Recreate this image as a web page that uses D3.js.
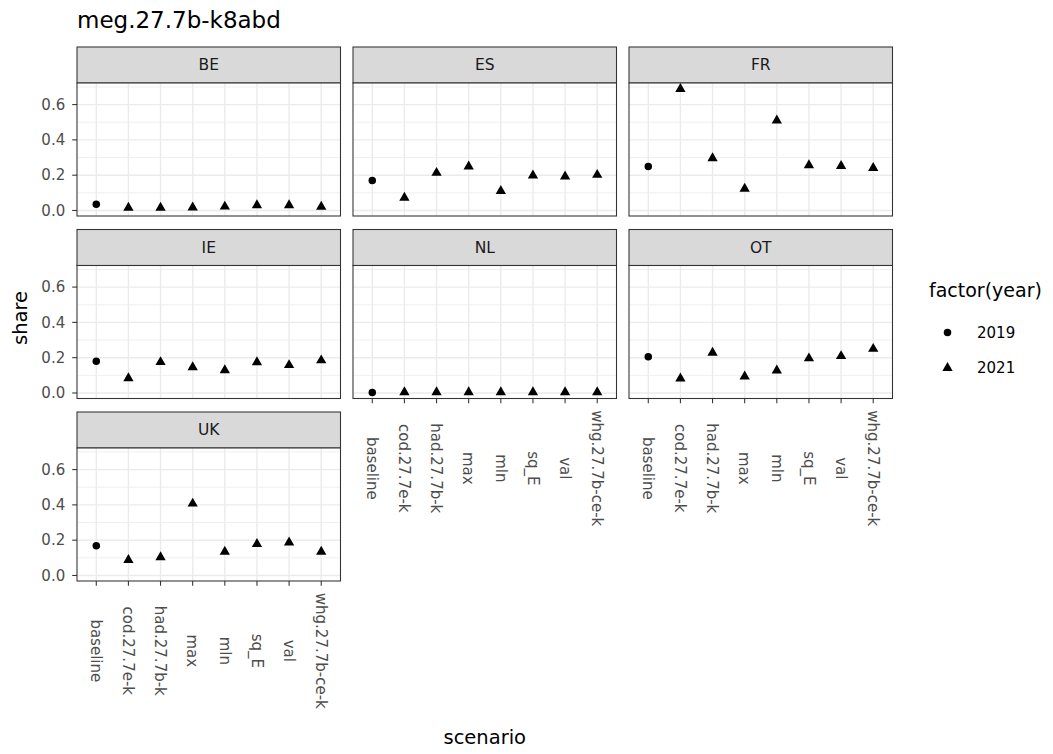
<!DOCTYPE html>
<html lang="en">

<head>
    <meta charset="utf-8" />
    <title>meg.27.7b-k8abd</title>
    <script src="https://d3js.org/d3.v7.min.js"></script>
    <style>
        body {
            margin: 0;
            background: #fff;
        }

        svg text {
            font-family: "DejaVu Sans", Verdana, sans-serif;
        }

        .tick-label {
            font-size: 15px;
            fill: #4d4d4d;
        }

        .strip-label {
            font-size: 15.5px;
            fill: #1a1a1a;
        }
    </style>
</head>

<body>
    <div id="chart"></div>
    <script>
        // scenarios on the x axis, one facet per country
        var scenarios = ['baseline', 'cod.27.7e-k', 'had.27.7b-k', 'max', 'mln', 'sq_E', 'val', 'whg.27.7b-ce-k'];
        var years = [2019, 2021, 2021, 2021, 2021, 2021, 2021, 2021];
        var countries = ['BE', 'ES', 'FR', 'IE', 'NL', 'OT', 'UK'];
        var yTicks = [0, 0.2, 0.4, 0.6];
        var yMinor = [0.1, 0.3, 0.5, 0.7];

        var shareBE = [0.035, 0.016, 0.016, 0.017, 0.022, 0.030, 0.030, 0.021];
        var shareES = [0.170, 0.072, 0.213, 0.249, 0.110, 0.198, 0.193, 0.202];
        var shareFR = [0.249, 0.688, 0.296, 0.123, 0.510, 0.256, 0.252, 0.241];
        var shareIE = [0.180, 0.084, 0.175, 0.146, 0.129, 0.174, 0.158, 0.185];
        var shareNL = [0.003, 0.004, 0.004, 0.004, 0.004, 0.004, 0.004, 0.004];
        var shareOT = [0.205, 0.082, 0.228, 0.093, 0.127, 0.196, 0.209, 0.250];
        var shareUK = [0.169, 0.088, 0.103, 0.407, 0.135, 0.178, 0.187, 0.135];

        var shares = [shareBE, shareES, shareFR, shareIE, shareNL, shareOT, shareUK];

        var width = 1053;
        var height = 754;
        var ncol = 3;
        var panelLeft = 77;
        var panelTop = 47;
        var panelW = 263.5;
        var colStep = 276;
        var stripH = 36;
        var plotH = 133;
        var rowStep = 182.5;
        var tickLen = 4.8;

        var svg = d3.select('#chart')
            .append('svg')
            .attr('width', width)
            .attr('height', height);

        var allValues = d3.merge(shares);
        var ext = d3.extent(allValues);
        var pad = (ext[1] - ext[0]) * 0.05;

        var y = d3.scaleLinear()
            .domain([ext[0] - pad, ext[1] + pad])
            .range([plotH, 0]);

        var x = d3.scalePoint()
            .domain(scenarios)
            .range([0, panelW])
            .padding(0.6);

        var shape = d3.scaleOrdinal()
            .domain([2019, 2021])
            .range([d3.symbolCircle, d3.symbolTriangle]);

        var symbolSize = {
            2019: 44,
            2021: 46
        };

        var nrow = Math.ceil(countries.length / ncol);

        countries.forEach(function(country, i) {
            var col = i % ncol;
            var row = Math.floor(i / ncol);
            var px = panelLeft + col * colStep;
            var py = panelTop + row * rowStep;
            var showX = (i + ncol) >= countries.length;
            var showY = col === 0;

            var g = svg.append('g')
                .attr('transform', 'translate(' + px + ',' + py + ')');

            // strip
            g.append('rect')
                .attr('x', 0)
                .attr('y', 0)
                .attr('width', panelW)
                .attr('height', stripH)
                .attr('fill', '#d9d9d9')
                .attr('stroke', '#333333')
                .attr('stroke-width', 1.07);

            g.append('text')
                .attr('class', 'strip-label')
                .attr('x', panelW / 2)
                .attr('y', stripH / 2)
                .attr('dy', '0.35em')
                .attr('text-anchor', 'middle')
                .text(country);

            var plot = g.append('g')
                .attr('transform', 'translate(0,' + stripH + ')');

            plot.append('rect')
                .attr('width', panelW)
                .attr('height', plotH)
                .attr('fill', '#fff');

            // grid
            plot.selectAll('.minor')
                .data(yMinor)
                .enter()
                .append('line')
                .attr('x1', 0)
                .attr('x2', panelW)
                .attr('y1', function(d) { return y(d); })
                .attr('y2', function(d) { return y(d); })
                .attr('stroke', '#ebebeb')
                .attr('stroke-width', 0.8);

            plot.selectAll('.hmajor')
                .data(yTicks)
                .enter()
                .append('line')
                .attr('x1', 0)
                .attr('x2', panelW)
                .attr('y1', function(d) { return y(d); })
                .attr('y2', function(d) { return y(d); })
                .attr('stroke', '#ebebeb')
                .attr('stroke-width', 1.4);

            plot.selectAll('.vmajor')
                .data(scenarios)
                .enter()
                .append('line')
                .attr('x1', function(d) { return x(d); })
                .attr('x2', function(d) { return x(d); })
                .attr('y1', 0)
                .attr('y2', plotH)
                .attr('stroke', '#ebebeb')
                .attr('stroke-width', 1.4);

            // points
            var values = shares[i];
            plot.selectAll('path.pt')
                .data(scenarios)
                .enter()
                .append('path')
                .attr('class', 'pt')
                .attr('transform', function(d, j) {
                    return 'translate(' + x(d) + ',' + y(values[j]) + ')';
                })
                .attr('d', function(d, j) {
                    return d3.symbol().type(shape(years[j])).size(symbolSize[years[j]])();
                })
                .attr('fill', '#000');

            plot.append('rect')
                .attr('width', panelW)
                .attr('height', plotH)
                .attr('fill', 'none')
                .attr('stroke', '#333333')
                .attr('stroke-width', 1.07);

            if (showY) {
                var yAxis = plot.append('g');
                yAxis.selectAll('line')
                    .data(yTicks)
                    .enter()
                    .append('line')
                    .attr('x1', -tickLen)
                    .attr('x2', 0)
                    .attr('y1', function(d) { return y(d); })
                    .attr('y2', function(d) { return y(d); })
                    .attr('stroke', '#333333')
                    .attr('stroke-width', 1.07);
                yAxis.selectAll('text')
                    .data(yTicks)
                    .enter()
                    .append('text')
                    .attr('class', 'tick-label')
                    .attr('x', -tickLen - 7)
                    .attr('y', function(d) { return y(d); })
                    .attr('dy', '0.35em')
                    .attr('text-anchor', 'end')
                    .text(function(d) { return d3.format('.1f')(d); });
            }

            if (showX) {
                var xAxis = plot.append('g')
                    .attr('transform', 'translate(0,' + plotH + ')');
                xAxis.selectAll('line')
                    .data(scenarios)
                    .enter()
                    .append('line')
                    .attr('x1', function(d) { return x(d); })
                    .attr('x2', function(d) { return x(d); })
                    .attr('y1', 0)
                    .attr('y2', tickLen)
                    .attr('stroke', '#333333')
                    .attr('stroke-width', 1.07);
                var labels = xAxis.selectAll('text')
                    .data(scenarios)
                    .enter()
                    .append('text')
                    .attr('class', 'tick-label')
                    .attr('text-anchor', 'middle')
                    .attr('dy', '0.35em')
                    .text(function(d) { return d; });
                var maxLen = d3.max(labels.nodes(), function(n) { return n.getComputedTextLength(); });
                labels.attr('transform', function(d) {
                    return 'translate(' + x(d) + ',' + (tickLen + 7 + maxLen / 2) + ') rotate(90)';
                });
            }
        });

        // title
        svg.append('text')
            .attr('x', panelLeft)
            .attr('y', 28)
            .style('font-size', '23px')
            .attr('fill', '#000')
            .text('meg.27.7b-k8abd');

        // axis titles
        var gridLeft = panelLeft;
        var gridRight = panelLeft + (ncol - 1) * colStep + panelW;
        var gridTop = panelTop;
        var gridBottom = panelTop + (nrow - 1) * rowStep + stripH + plotH;

        svg.append('text')
            .attr('x', (gridLeft + gridRight) / 2)
            .attr('y', 744)
            .attr('text-anchor', 'middle')
            .style('font-size', '19.5px')
            .attr('fill', '#000')
            .text('scenario');

        svg.append('text')
            .attr('transform', 'translate(27,' + ((gridTop + gridBottom) / 2 + 4) + ') rotate(-90)')
            .attr('text-anchor', 'middle')
            .style('font-size', '19.5px')
            .attr('fill', '#000')
            .text('share');

        // legend
        var legend = svg.append('g')
            .attr('transform', 'translate(929,0)');

        legend.append('text')
            .attr('x', 0)
            .attr('y', 297)
            .style('font-size', '19px')
            .attr('fill', '#000')
            .text('factor(year)');

        var keys = [2019, 2021];
        var legendItem = legend.selectAll('.legend')
            .data(keys)
            .enter()
            .append('g')
            .attr('class', 'legend')
            .attr('transform', function(d, i) {
                return 'translate(0,' + (332.5 + i * 35.5) + ')';
            });

        legendItem.append('path')
            .attr('transform', 'translate(18.5,0)')
            .attr('d', function(d) {
                return d3.symbol().type(shape(d)).size(symbolSize[d])();
            })
            .attr('fill', '#000');

        legendItem.append('text')
            .attr('x', 48)
            .attr('y', 0)
            .attr('dy', '0.35em')
            .style('font-size', '15px')
            .attr('fill', '#000')
            .text(function(d) { return d; });
    </script>
</body>

</html>
